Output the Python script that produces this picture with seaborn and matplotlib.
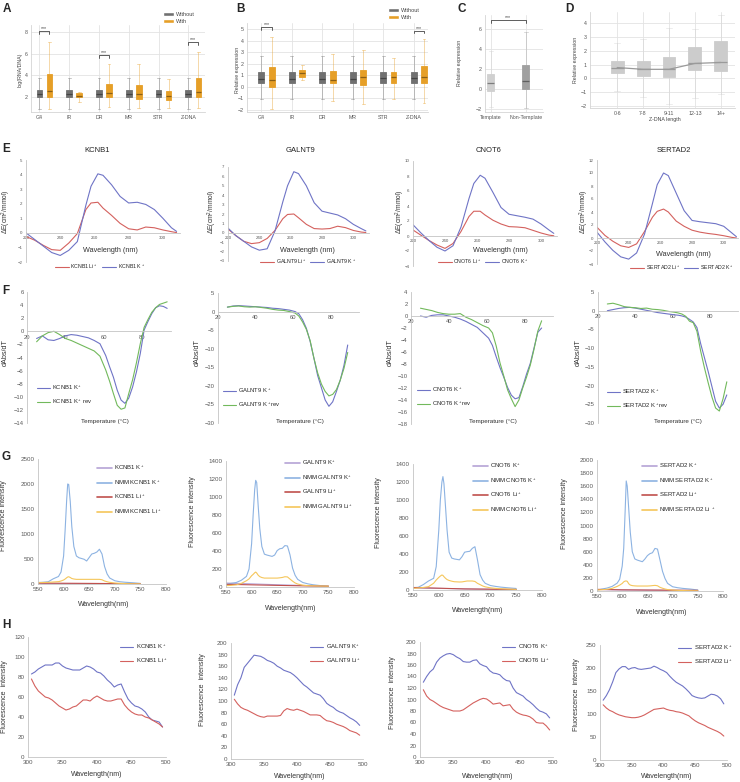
import numpy as np
import pandas as pd
import matplotlib
matplotlib.use("Agg")
import matplotlib.pyplot as plt
from matplotlib.colors import to_rgb
from matplotlib.patches import Patch
import seaborn as sns

W, H = 740, 782

# ---------------- panels A-D : box summaries ----------------
# each summary = [low whisker, Q1, median, Q3, high whisker]
BOX_CATS = ["G4", "IR", "DR", "MR", "STR", "Z-DNA"]
A_WITHOUT = [[0.8, 1.95, 2.2, 2.6, 3.7], [0.8, 1.95, 2.2, 2.65, 3.7], [0.8, 1.95, 2.2, 2.6, 3.7],
             [0.8, 1.95, 2.2, 2.6, 3.7], [0.8, 1.95, 2.2, 2.65, 3.7], [0.8, 1.95, 2.2, 2.6, 3.7]]
A_WITH = [[0.85, 2.0, 2.55, 4.1, 7.1], [1.5, 1.95, 2.1, 2.3, 2.45], [1.05, 1.95, 2.3, 3.2, 5.0],
          [0.95, 1.75, 2.2, 3.1, 5.0], [0.95, 1.7, 2.1, 2.5, 3.6], [0.9, 2.0, 2.4, 3.7, 6.2]]
A_SIG_CATS = ["G4", "DR", "Z-DNA"]
A_SIG_Y = [8.1, 5.85, 7.05]

B_WITHOUT = [[-1.05, 0.3, 0.7, 1.25, 2.7], [-1.05, 0.3, 0.7, 1.25, 2.7], [-1.05, 0.3, 0.7, 1.25, 2.7],
             [-1.05, 0.3, 0.7, 1.25, 2.7], [-1.05, 0.35, 0.75, 1.3, 2.7], [-1.05, 0.3, 0.75, 1.25, 2.7]]
B_WITH = [[-1.9, -0.05, 0.6, 1.7, 4.3], [0.6, 0.85, 1.2, 1.45, 1.85], [-1.2, 0.3, 0.6, 1.35, 2.8],
          [-1.5, 0.2, 0.85, 1.45, 3.15], [-1.05, 0.35, 0.85, 1.3, 2.5], [-1.4, 0.3, 0.85, 1.8, 4.1]]
B_SIG_CATS = ["G4", "Z-DNA"]
B_SIG_Y = [5.15, 4.85]

C_CATS = ["Template", "Non-Template"]
C_STATS = [[-1.75, -0.17, 0.55, 1.48, 3.8], [-1.85, 0.0, 0.78, 2.38, 5.7]]
C_SIG_Y = 6.8

D_CATS = ["0-6", "7-8", "9-11", "12-13", "14+"]
D_STATS = [[-0.92, 0.36, 0.78, 1.26, 2.55], [-1.4, 0.17, 0.65, 1.26, 2.84], [-1.9, 0.12, 0.65, 1.58, 3.64],
           [-1.46, 0.6, 1.08, 2.26, 3.57], [-1.16, 0.53, 1.15, 2.74, 4.6]]

# ---------------- panel E : CD spectra ----------------
GENES = ["KCNB1", "GALNT9", "CNOT6", "SERTAD2"]
E_WL = [220, 225, 230, 235, 240, 245, 250, 255, 258, 262, 265, 270, 275, 280, 285, 290, 295, 300, 305, 308]
E_K = [
    [0.0, -0.45, -0.9, -1.35, -1.55, -1.2, -0.6, 1.9, 3.2, 4.05, 3.95, 3.3, 2.5, 2.05, 2.1, 1.95, 1.6, 1.0, 0.35, 0.1],
    [0.5, -0.3, -0.9, -1.5, -1.85, -1.7, 0.2, 3.3, 5.0, 6.5, 6.3, 5.0, 3.2, 2.3, 2.1, 1.9, 1.5, 0.9, 0.45, 0.2],
    [1.5, 0.4, -0.6, -1.5, -2.0, -1.3, 1.2, 5.0, 7.0, 8.1, 7.7, 5.8, 3.8, 2.9, 2.7, 2.5, 2.25, 1.6, 0.8, 0.35],
    [0.9, -0.6, -1.9, -2.9, -3.25, -2.3, 0.6, 5.3, 8.2, 10.0, 9.6, 6.9, 4.2, 2.7, 2.5, 2.35, 2.2, 1.8, 0.8, 0.2],
]
E_LI = [
    [-0.25, -0.5, -0.85, -1.15, -1.2, -0.7, -0.05, 1.6, 2.05, 2.1, 1.7, 1.2, 0.65, 0.28, 0.2, 0.4, 0.35, 0.2, 0.08, 0.02],
    [0.4, -0.3, -0.9, -1.15, -1.05, -0.6, 0.25, 1.5, 1.95, 2.0, 1.6, 0.9, 0.45, 0.4, 0.45, 0.7, 0.55, 0.25, 0.08, 0.03],
    [0.8, 0.1, -0.6, -1.2, -1.65, -1.0, 0.6, 2.6, 3.3, 3.3, 2.8, 2.1, 1.6, 1.25, 1.2, 1.1, 0.75, 0.4, 0.12, 0.03],
    [1.65, 0.4, -0.5, -1.2, -1.45, -0.9, 1.0, 3.2, 4.1, 4.45, 4.0, 2.6, 1.8, 1.2, 0.9, 0.7, 0.55, 0.35, 0.1, 0.0],
]

# ---------------- panel F : melting derivative ----------------
F_T = [25, 28, 31, 34, 37, 40, 43, 46, 49, 52, 55, 58, 61, 63, 65, 67, 69, 71, 73, 75, 77, 79, 81, 83, 85, 87, 89, 91, 93]
F_T_SHORT = [25, 28, 31, 34, 37, 40, 43, 46, 49, 52, 55, 58, 61, 63, 65, 67, 69, 71, 73, 75, 77, 79, 81, 83, 85, 87, 89]
F_K = [
    [-1.1, -0.7, -1.3, -1.4, -1.1, -0.7, -0.5, -0.6, -0.8, -1.0, -1.4, -1.9, -3.7, -5.4, -7.0, -9.0, -10.5, -11.0,
     -10.2, -8.5, -6.2, -3.4, 0.2, 1.5, 2.7, 3.6, 3.9, 3.8, 3.5],
    [1.2, 1.5, 1.6, 1.5, 1.4, 1.3, 1.2, 1.1, 0.9, 0.8, 0.6, 0.4, 0.0, -0.6, -2.2, -4.5, -8.0, -12.5, -17.2, -20.5,
     -23.8, -25.5, -24.3, -21.5, -18.5, -14.5, -9.0],
    [0.0, -0.2, 0.1, 0.2, 0.2, 0.0, -0.2, -0.5, -0.9, -1.4, -1.9, -2.8, -3.7, -4.9, -6.8, -8.6, -10.2, -11.9, -13.2,
     -13.8, -13.6, -11.8, -9.7, -7.9, -5.3, -2.7, -2.0],
    [0.0, 0.3, 0.6, 0.8, 0.9, 0.7, 0.4, 0.1, -0.2, -0.5, -0.7, -0.9, -1.1, -1.2, -1.4, -1.7, -2.3, -3.0, -4.5, -8.8,
     -12.5, -16.2, -20.2, -24.2, -26.0, -25.0, -22.5],
]
F_REV = [
    [-1.6, -0.7, -0.2, 0.0, -0.5, -1.1, -1.4, -1.8, -2.2, -2.6, -3.0, -3.8, -5.9, -7.6, -9.5, -11.3, -11.9, -11.7,
     -9.5, -7.4, -4.8, -1.9, 0.6, 1.8, 2.9, 3.6, 4.1, 4.3, 4.5],
    [1.2, 1.4, 1.5, 1.3, 1.2, 1.3, 1.1, 0.9, 0.6, 0.4, 0.3, 0.0, -0.4, -1.2, -2.8, -4.8, -7.8, -12.5, -16.5, -19.5,
     -21.5, -22.7, -22.3, -21.0, -18.5, -15.3, -11.0],
    [1.3, 1.1, 0.9, 0.6, 0.4, 0.3, 0.3, 0.4, -0.2, -0.6, -1.1, -1.6, -2.0, -2.8, -5.0, -7.8, -10.0, -12.3, -13.8,
     -15.1, -14.0, -12.0, -10.2, -8.2, -5.5, -2.5, -0.8],
    [1.8, 2.0, 1.6, 1.1, 0.9, 0.8, 0.6, 0.7, 0.4, 0.3, 0.1, -0.2, -0.4, -0.6, -0.9, -1.5, -2.8, -3.2, -5.5, -10.8,
     -15.2, -19.2, -23.0, -26.0, -26.8, -23.5, -19.0],
]
F_X = [F_T, F_T_SHORT, F_T_SHORT, F_T_SHORT]

# ---------------- panel G : NMM fluorescence ----------------
G_WL = [550, 560, 570, 580, 590, 595, 600, 603, 606, 608, 610, 613, 616, 620, 625, 630, 640, 645, 650, 655,
        660, 665, 670, 675, 680, 685, 690, 700, 710, 720, 735, 750]
G_FLAT_WL = [550, 600, 650, 700, 750]
G_NMM_K = [
    [30, 35, 45, 105, 150, 240, 560, 1080, 1680, 2000, 1990, 1650, 1150, 750, 560, 525, 495, 460, 530, 600,
     615, 640, 695, 600, 350, 200, 120, 65, 45, 35, 25, 12],
    [30, 40, 50, 75, 118, 200, 480, 800, 1080, 1185, 1160, 890, 650, 450, 365, 355, 340, 355, 405, 425,
     430, 460, 456, 357, 210, 130, 85, 50, 35, 25, 15, 8],
    [26, 30, 60, 100, 130, 260, 667, 1000, 1200, 1260, 1180, 926, 667, 420, 355, 345, 335, 370, 420, 426,
     430, 463, 481, 333, 170, 110, 74, 50, 40, 32, 24, 17],
    [15, 30, 45, 70, 120, 180, 380, 650, 1250, 1680, 1600, 1250, 900, 600, 490, 472, 447, 488, 540, 570,
     584, 650, 640, 472, 300, 190, 117, 65, 50, 40, 30, 15],
]
G_NMM_LI = [
    [27, 30, 33, 40, 47, 60, 80, 100, 125, 140, 145, 130, 110, 100, 93, 93, 93, 93, 93, 93,
     93, 93, 93, 85, 60, 45, 33, 20, 13, 8, 4, 2],
    [15, 18, 24, 40, 70, 90, 125, 140, 158, 166, 155, 130, 115, 105, 99, 99, 99, 99, 99, 102,
     106, 114, 112, 88, 65, 45, 33, 20, 15, 13, 11, 10],
    [18, 22, 28, 37, 75, 111, 140, 155, 167, 162, 148, 130, 116, 106, 98, 92, 89, 90, 95, 100,
     100, 100, 95, 74, 60, 45, 35, 24, 18, 14, 10, 7],
    [15, 20, 26, 40, 70, 90, 115, 140, 152, 153, 148, 110, 91, 82, 78, 76, 76, 76, 76, 78,
     82, 86, 80, 56, 42, 30, 22, 14, 10, 7, 4, 2],
]
G_K = [[10, 8, 6, 5, 3], [44, 35, 25, 17, 10], [22, 18, 12, 8, 5], [22, 15, 12, 11, 10]]
G_LI = [[18, 15, 12, 8, 4], [30, 24, 18, 13, 9], [28, 20, 12, 9, 6], [25, 18, 15, 12, 10]]

# ---------------- panel H : intrinsic fluorescence ----------------
H_WL = [305, 310, 315, 320, 325, 330, 335, 340, 345, 350, 355, 360, 365, 370, 375, 380, 385, 390, 395, 400,
        405, 410, 415, 420, 425, 430, 435, 440, 445, 450, 455, 460, 465, 470, 475, 480, 485, 490, 495]
H_K = [
    [83, 85, 88, 90, 92, 92, 92, 94, 94, 91, 89, 88, 87, 87, 87, 89, 91, 90, 88, 85,
     84, 81, 77, 74, 70, 72, 73, 65, 58, 54, 51, 50, 48, 45, 40, 37, 36, 35, 30],
    [110, 128, 140, 158, 165, 172, 179, 178, 177, 174, 170, 168, 165, 160, 157, 153, 151, 149, 145, 140,
     134, 128, 124, 119, 114, 112, 110, 104, 96, 92, 89, 84, 81, 79, 75, 71, 68, 64, 58],
    [130, 140, 148, 153, 165, 172, 176, 179, 180, 178, 174, 171, 166, 165, 165, 168, 169, 162, 159, 157,
     150, 146, 145, 143, 137, 133, 132, 120, 112, 109, 106, 100, 96, 91, 85, 80, 78, 75, 68],
    [130, 140, 153, 170, 190, 198, 203, 203, 197, 200, 201, 198, 197, 198, 199, 200, 204, 201, 197, 194,
     190, 182, 175, 169, 165, 161, 155, 148, 140, 137, 135, 134, 135, 139, 143, 142, 139, 133, 122],
]
H_LI = [
    [78, 71, 66, 63, 60, 59, 57, 54, 51, 49, 47, 48, 50, 51, 54, 57, 57, 56, 59, 61,
     59, 57, 56, 56, 57, 58, 58, 52, 48, 45, 43, 42, 42, 40, 39, 37, 35, 33, 30],
    [103, 95, 89, 86, 84, 81, 78, 75, 73, 72, 74, 74, 74, 74, 75, 83, 87, 85, 84, 86,
     84, 82, 79, 76, 76, 76, 75, 70, 66, 65, 63, 60, 58, 56, 53, 49, 47, 45, 41],
    [117, 106, 100, 97, 93, 89, 86, 84, 82, 80, 80, 80, 82, 86, 90, 94, 97, 100, 102, 101,
     97, 92, 93, 94, 89, 90, 91, 83, 78, 75, 73, 72, 70, 66, 60, 59, 59, 54, 47],
    [120, 113, 108, 105, 101, 98, 96, 94, 93, 92, 92, 93, 95, 98, 102, 106, 110, 111, 112, 113,
     110, 108, 107, 105, 104, 102, 99, 96, 90, 85, 81, 78, 75, 71, 68, 65, 62, 58, 52],
]

# ---------------- colours ----------------
GRAY = "#707070"
ORANGE = "#e69f27"
BLUE = "#6f74c6"
RED = "#d4615e"
GREEN = "#72b95c"
G_BLUE = "#8db3e2"
G_PURPLE = "#b5a3d6"
G_RED = "#c0504d"
G_YELLOW = "#f5c65a"
TICK_C = "#595959"

sns.set_theme(style="whitegrid")
plt.rcParams["font.family"] = ["Liberation Sans", "DejaVu Sans"]
plt.rcParams["mathtext.fontset"] = "custom"
plt.rcParams["mathtext.rm"] = "Liberation Sans"
plt.rcParams["mathtext.it"] = "Liberation Sans:italic"
plt.rcParams["mathtext.default"] = "regular"

fig = plt.figure(figsize=(W / 100, H / 100), dpi=100, facecolor="white")


def px_axes(l, t, r, b):
    return fig.add_axes([l / W, 1 - b / H, (r - l) / W, (b - t) / H])


def ftext(x, y, s, **kw):
    return fig.text(x / W, 1 - y / H, s, **kw)


def five_num_frame(cats, series):
    rows = []
    for group, stats in series:
        for cat, five in zip(cats, stats):
            rows += [(cat, group, v) for v in five]
    return pd.DataFrame(rows, columns=["cat", "group", "value"])


def box_kws(color, alpha):
    # solid box, faint whiskers in the same colour, darker median
    dark = tuple(np.array(to_rgb(color)) * 0.6)
    return dict(whis=(0, 100), saturation=1, fliersize=0, linewidth=0.6, linecolor=color,
                whiskerprops=dict(alpha=alpha, linewidth=0.7),
                capprops=dict(alpha=alpha, linewidth=0.7),
                medianprops=dict(color=dark, linewidth=0.9))


def grid_style(ax, fs=3.8):
    ax.set_axisbelow(True)
    ax.xaxis.grid(True, color="#e3e3e3", linewidth=0.6)
    ax.yaxis.grid(True, color="#e3e3e3", linewidth=0.6)
    sns.despine(ax=ax)
    for s in ("left", "bottom"):
        ax.spines[s].set_color("#d5d5d5")
        ax.spines[s].set_linewidth(0.6)
    ax.tick_params(labelsize=fs, labelcolor="#555555", color="#cccccc", length=1.5, width=0.5, pad=1)
    ax.set_xlabel("")
    ax.set_ylabel("")


def bracket(ax, x0, x1, y, drop, fs=3.8):
    ax.plot([x0, x0, x1, x1], [y - drop, y, y, y - drop], color="#444444", lw=0.6, clip_on=False)
    ax.text((x0 + x1) / 2, y, "***", ha="center", va="bottom", fontsize=fs, color="#444444")


def excel_style(ax, fs, zero=False):
    ax.grid(False)
    sns.despine(ax=ax)
    for s in ("left", "bottom"):
        ax.spines[s].set_color("#c4c4c4")
        ax.spines[s].set_linewidth(0.6)
    if zero:
        ax.spines["bottom"].set_position(("data", 0))
    ax.tick_params(labelsize=fs, labelcolor=TICK_C, color="#c4c4c4", length=1.5, width=0.5, pad=1)
    ax.set_xlabel("")
    ax.set_ylabel("")


def legend_at(ax, x, y, fs, **kw):
    opts = dict(loc="upper left", frameon=False, fontsize=fs, borderpad=0, borderaxespad=0,
                handletextpad=0.4)
    opts.update(kw)
    return ax.legend(bbox_to_anchor=(x / W, 1 - y / H), bbox_transform=fig.transFigure, **opts)


# ======================= A & B =======================
GROUPS = ["Without", "With"]
GROUP_COLORS = {"Without": GRAY, "With": ORANGE}
for letter, lx, rect, without, with_, sig_cats, sig_y, ylim, xlim, yticks, ylab_x, leg_xy in [
    ("A", 3, (31, 25, 205, 112), A_WITHOUT, A_WITH, A_SIG_CATS, A_SIG_Y, (0.56, 8.68), (-0.45, 5.39),
     [2, 4, 6, 8], 20, (163, 12)),
    ("B", 236, (247, 23, 428, 112), B_WITHOUT, B_WITH, B_SIG_CATS, B_SIG_Y, (-2.17, 5.52), (-0.64, 5.3),
     list(range(-2, 6)), 237, (388, 8)),
]:
    ax = px_axes(*rect)
    df = five_num_frame(BOX_CATS, [("Without", without), ("With", with_)])
    for group in GROUPS:
        sns.boxplot(data=df[df["group"] == group], x="cat", y="value", order=BOX_CATS, hue="group",
                    hue_order=GROUPS, palette=GROUP_COLORS, dodge=True, width=0.68, gap=0.44,
                    legend=False, ax=ax, **box_kws(GROUP_COLORS[group], 0.4))
    grid_style(ax)
    ax.set_xticks(np.arange(len(BOX_CATS)) - 0.17, BOX_CATS)
    ax.set_yticks(yticks)
    ax.set_xlim(*xlim)
    ax.set_ylim(*ylim)
    for cat, yb in zip(sig_cats, sig_y):
        i = BOX_CATS.index(cat)
        bracket(ax, i - 0.17, i + 0.17, yb, 0.22)
    leg = ax.legend([Patch(facecolor=GRAY), Patch(facecolor=ORANGE)], GROUPS,
                    loc="upper left", bbox_to_anchor=(leg_xy[0] / W, 1 - leg_xy[1] / H),
                    bbox_transform=fig.transFigure, frameon=False, fontsize=4, borderpad=0,
                    borderaxespad=0, handlelength=1.9, handleheight=0.75, labelspacing=0.3,
                    handletextpad=0.5)
    for t in leg.get_texts():
        t.set_color("#444444")
    ftext(ylab_x, 70, "log(RNA/DNA)" if letter == "A" else "Relative expression", rotation=90,
          ha="center", va="center", fontsize=3.8, color="#444444")
    ftext(lx, 3, letter, fontsize=8.5, fontweight="bold", va="top", ha="left")

# ======================= C =======================
ax = px_axes(485, 15, 543, 112)
df_c = five_num_frame(C_CATS, [("all", C_STATS)])
for cat, col in zip(C_CATS, ["#d0d0d0", "#a0a0a0"]):
    sns.boxplot(data=df_c[df_c["cat"] == cat], x="cat", y="value", order=C_CATS, color=col, width=0.2,
                ax=ax, **box_kws(col, 0.4))
grid_style(ax)
ax.set_xticks([0, 1], C_CATS)
ax.set_yticks([-2, 0, 2, 4, 6])
ax.set_xlim(-0.17, 1.49)
ax.set_ylim(-2.28, 7.34)
bracket(ax, 0, 1, C_SIG_Y, 0.25)
ftext(459, 63, "Relative expression", rotation=90, ha="center", va="center", fontsize=3.8, color="#444444")
ftext(457, 3, "C", fontsize=8.5, fontweight="bold", va="top", ha="left")

# ======================= D =======================
ax = px_axes(590, 12, 735, 108)
df_d = five_num_frame(D_CATS, [("all", D_STATS)])
d_kws = box_kws("#cccccc", 0.35)
d_kws["medianprops"] = dict(color="#9a9a9a", linewidth=0.9)
sns.boxplot(data=df_d, x="cat", y="value", order=D_CATS, color="#cccccc", width=0.5, ax=ax, **d_kws)
sns.lineplot(x=np.arange(len(D_CATS)), y=[s[2] for s in D_STATS], color="#9a9a9a", lw=0.9, ax=ax)
grid_style(ax)
ax.set_xticks(np.arange(len(D_CATS)), D_CATS)
ax.set_yticks(list(range(-2, 5)))
ax.set_xlim(-1.05, 4.55)
ax.set_ylim(-2.17, 4.83)
ftext(576, 60, "Relative expression", rotation=90, ha="center", va="center", fontsize=3.8, color="#444444")
ftext(665, 120, "Z-DNA length", ha="center", va="center", fontsize=3.8, color="#444444")
ftext(565, 3, "D", fontsize=8.5, fontweight="bold", va="top", ha="left")

# ======================= E =======================
E_RECTS = [(26, 160, 180, 262), (228, 167, 369, 261), (413, 161, 557, 266), (597, 160, 738, 264)]
E_YLIM = [(-2, 5), (-3, 7), (-4, 10), (-4, 12)]
E_YSTEP = [1, 1, 2, 2]
E_TITLE_X = [97, 300, 489, 674]
E_YLAB_X = [6, 212, 400, 584]
E_XLAB = [(110, 251), (307, 251), (500, 251), (683, 254)]
E_LEG = [(100, 267), (308, 262), (483, 262), (682, 268)]
for i, gene in enumerate(GENES):
    ax = px_axes(*E_RECTS[i])
    sns.lineplot(x=E_WL, y=E_LI[i], color=RED, lw=0.8, label=f"{gene} Li$^+$", ax=ax)
    sns.lineplot(x=E_WL, y=E_K[i], color=BLUE, lw=0.8, label=f"{gene} K$^+$", ax=ax)
    excel_style(ax, 3.2, zero=True)
    ax.set_xlim(220, 309 if i == 3 else 310)
    ax.set_ylim(*E_YLIM[i])
    ax.set_xticks([220, 240, 260, 280, 300])
    ax.set_yticks(np.arange(E_YLIM[i][0], E_YLIM[i][1] + 0.1, E_YSTEP[i]))
    ax.legend(loc="center", bbox_to_anchor=(E_LEG[i][0] / W, 1 - E_LEG[i][1] / H),
              bbox_transform=fig.transFigure, frameon=False, fontsize=3.8, ncol=2, borderpad=0,
              handlelength=2.6, columnspacing=0.8, handletextpad=0.3)
    ftext(E_TITLE_X[i], 150, gene, ha="center", va="center", fontsize=5.5, color="#222222")
    ftext(E_YLAB_X[i], 212, "ΔE(cm$^2$/mmol)", rotation=90, ha="center", va="center", fontsize=4.8,
          color="#333333")
    ftext(E_XLAB[i][0], E_XLAB[i][1], "Wavelength (nm)", ha="center", va="center", fontsize=5.2,
          color="#333333")
ftext(2, 143, "E", fontsize=8.5, fontweight="bold", va="top", ha="left")

# ======================= F =======================
F_RECTS = [(27, 292, 171, 423), (218, 293, 359, 423), (411, 292, 553, 424), (598, 292, 738, 423)]
F_YLIM = [(-14, 6), (-30, 5), (-18, 4), (-30, 5)]
F_YSTEP = [2, 5, 2, 5]
F_YLAB_X = [5, 197, 390, 578]
F_XLAB_X = [105, 300, 493, 678]
F_LEG = [(37, 384), (223, 387), (417, 386), (607, 388)]
F_REV_SEP = [" rev", "rev", "rev", "rev"]
for i, gene in enumerate(GENES):
    ax = px_axes(*F_RECTS[i])
    sns.lineplot(x=F_X[i], y=F_K[i], color=BLUE, lw=0.8, label=f"{gene} K$^+$", ax=ax)
    sns.lineplot(x=F_X[i], y=F_REV[i], color=GREEN, lw=0.8, label=f"{gene} K$^+${F_REV_SEP[i]}", ax=ax)
    excel_style(ax, 4.2, zero=True)
    ax.set_xlim(20, 95)
    ax.set_ylim(*F_YLIM[i])
    ax.set_xticks([20, 40, 60, 80])
    ax.set_yticks(np.arange(F_YLIM[i][0], F_YLIM[i][1] + 0.1, F_YSTEP[i]))
    legend_at(ax, F_LEG[i][0], F_LEG[i][1], 4.2, handlelength=2.2, labelspacing=1.0)
    ftext(F_YLAB_X[i], 353, "dAbs/dT", rotation=90, ha="center", va="center", fontsize=5.2, color="#333333")
    ftext(F_XLAB_X[i], 421, "Temperature (°C)", ha="center", va="center", fontsize=4.5, color="#333333")
ftext(2, 285, "F", fontsize=8.5, fontweight="bold", va="top", ha="left")

# ======================= G =======================
G_RECTS = [(38, 459, 166, 584), (226, 461, 354, 587), (413, 464, 542, 590), (597, 460, 723, 591)]
G_YLIM = [(0, 2500), (0, 1400), (0, 1400), (0, 2000)]
G_YSTEP = [500, 200, 200, 200]
G_YLAB = [(4, 516), (193, 512), (378, 513), (565, 514)]
G_XLAB = [(104, 605), (291, 608), (478, 611), (662, 612)]
G_LEG = [(97, 464), (285, 459), (473, 462), (642, 462)]
for i, gene in enumerate(GENES):
    ax = px_axes(*G_RECTS[i])
    li_sep = " " if gene == "SERTAD2" else ""
    sns.lineplot(x=G_FLAT_WL, y=G_K[i], color=G_PURPLE, lw=0.8, label=f"{gene} K$^+$", ax=ax)
    sns.lineplot(x=G_WL, y=G_NMM_K[i], color=G_BLUE, lw=0.8, label=f"NMM {gene} K$^+$", ax=ax)
    sns.lineplot(x=G_FLAT_WL, y=G_LI[i], color=G_RED, lw=0.8, label=f"{gene} Li$^+$", ax=ax)
    sns.lineplot(x=G_WL, y=G_NMM_LI[i], color=G_YELLOW, lw=0.8, label=f"NMM {gene} Li{li_sep}$^+$", ax=ax)
    excel_style(ax, 4.5)
    ax.set_xlim(550, 800)
    ax.set_ylim(*G_YLIM[i])
    ax.set_xticks([550, 600, 650, 700, 750, 800])
    ax.set_yticks(np.arange(G_YLIM[i][0], G_YLIM[i][1] + 1, G_YSTEP[i]))
    leg = legend_at(ax, G_LEG[i][0], G_LEG[i][1], 4.3, handlelength=2.5, labelspacing=1.05)
    for ln in leg.get_lines():
        ln.set_linewidth(1.2)
    ftext(G_YLAB[i][0], G_YLAB[i][1], "Fluorescence intensity", rotation=90, ha="center", va="center",
          fontsize=5, color="#333333")
    ftext(G_XLAB[i][0], G_XLAB[i][1], "Wavelength(nm)", ha="center", va="center", fontsize=5,
          color="#333333")
ftext(2, 451, "G", fontsize=8.5, fontweight="bold", va="top", ha="left")

# ======================= H =======================
H_RECTS = [(28, 637, 166, 757), (231, 643, 363, 759), (420, 642, 553, 757), (600, 645, 727, 760)]
H_YLIM = [(0, 120), (0, 200), (0, 200), (0, 250)]
H_YSTEP = [20, 20, 20, 50]
H_YLAB = [(5, 697), (203, 690), (393, 693), (577, 695)]
H_XLAB = [(97, 775), (300, 777), (488, 776), (667, 777)]
H_LEG = [(120, 643), (310, 643), (502, 643), (678, 644)]
for i, gene in enumerate(GENES):
    ax = px_axes(*H_RECTS[i])
    sns.lineplot(x=H_WL, y=H_K[i], color=BLUE, lw=0.8, label=f"{gene} K$^+$", ax=ax)
    sns.lineplot(x=H_WL, y=H_LI[i], color=RED, lw=0.8, label=f"{gene} Li$^+$", ax=ax)
    excel_style(ax, 4.5)
    ax.set_xlim(300, 500)
    ax.set_ylim(*H_YLIM[i])
    ax.set_xticks([300, 350, 400, 450, 500])
    ax.set_yticks(np.arange(H_YLIM[i][0], H_YLIM[i][1] + 1, H_YSTEP[i]))
    legend_at(ax, H_LEG[i][0], H_LEG[i][1], 4.3, handlelength=2.2, labelspacing=0.9)
    ftext(H_YLAB[i][0], H_YLAB[i][1], "Fluorescence  intensity", rotation=90, ha="center", va="center",
          fontsize=5, color="#333333")
    ftext(H_XLAB[i][0], H_XLAB[i][1], "Wavelength(nm)", ha="center", va="center", fontsize=5,
          color="#333333")
ftext(2, 619, "H", fontsize=8.5, fontweight="bold", va="top", ha="left")

fig.savefig("out.png", dpi=100, facecolor="white")
